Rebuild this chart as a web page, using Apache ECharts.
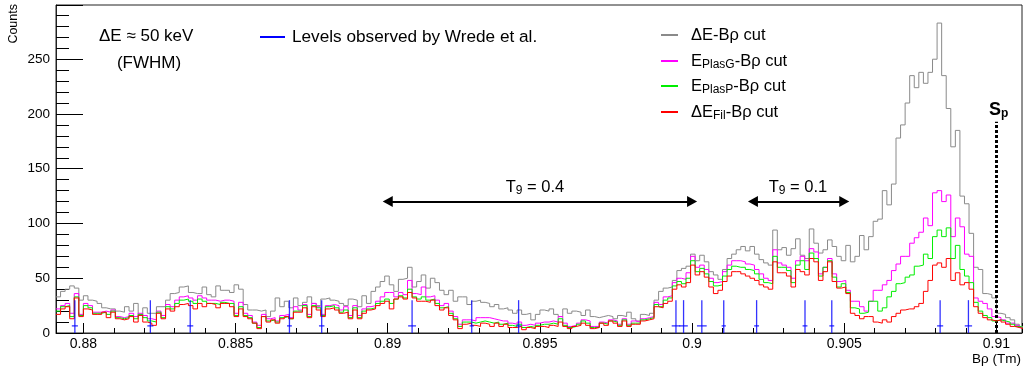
<!DOCTYPE html>
<html><head><meta charset="utf-8">
<script src="https://cdn.jsdelivr.net/npm/echarts@6/dist/echarts.min.js"></script>
<style>html,body{margin:0;padding:0;background:#fff}#c{width:1028px;height:369px}</style>
</head><body><div id="c"></div><script>
// ---- data ----
const binStart = 0.8791;
const binWidth = 0.00015;
const cutDeltaE = [
33,38,40,43,41,30,34,30,29,27, 23,22,22,20,19,24,20,27,17,23, 18,18,24,24,30,36,37,42,43,37,
36,36,42,35,33,43,39,39,37,44, 40,26,21,21,20,21,15,20,32,24, 29,23,32,25,28,33,27,25,31,32,
30,29,27,25,31,30,24,34,27,38, 42,47,52,44,38,49,50,60,42,47, 53,41,50,46,39,35,39,29,33,33,
26,29,30,28,27,24,26,22,23,21, 18,21,17,18,12,17,21,20,22,17, 15,22,18,20,19,16,21,15,14,15,
16,15,13,16,15,19,13,11,17,16, 18,30,38,41,42,48,57,59,61,72, 66,71,65,56,53,49,58,68,72,76,
79,75,79,72,67,64,62,94,76,78, 71,77,86,71,68,95,82,73,76,85, 79,70,66,80,65,70,89,76,88,102,
104,130,117,136,178,190,210,235,224,238, 228,238,250,283,235,205,170,185,125,118, 91,60,58,36,35,32,18,17,14,12,
8,6];
const cutPlasG = [
22,25,27,18,36,17,27,25,19,19, 20,19,21,15,14,15,18,15,18,16, 13,12,20,16,26,24,30,33,34,32,
30,34,32,30,30,29,30,30,29,18, 28,18,16,10,7,17,13,14,11,16, 17,14,24,21,26,17,27,24,17,25,
26,25,21,24,16,25,16,22,24,25, 29,33,37,37,33,37,35,48,36,35, 42,33,34,30,25,27,20,15,8,12,
12,11,14,14,14,13,12,11,11,9, 8,10,7,8,7,9,10,10,11,10, 15,9,6,7,9,12,11,6,6,10,
9,12,11,8,13,8,11,10,13,14, 15,28,26,33,34,46,50,49,55,70, 60,62,58,50,46,47,56,62,66,66,
65,63,62,58,54,50,48,76,64,62, 60,50,66,70,66,77,74,54,60,68, 54,47,48,39,29,29,24,20,29,39,
39,44,48,57,63,70,70,82,87,92, 105,98,128,130,120,126,88,105,97,72, 70,32,29,27,22,15,14,12,9,9,
7,5];
const cutPlasP = [
20,24,25,15,33,16,25,23,18,18, 19,17,20,14,13,14,16,13,17,14, 11,10,19,14,24,22,27,30,31,29,
27,31,29,27,27,26,28,27,27,16, 24,16,14,9,5,15,11,12,10,14, 15,13,20,20,25,15,25,23,16,24,
25,23,19,21,14,23,14,20,22,23, 27,29,31,27,31,34,32,40,33,31, 33,30,31,27,23,24,18,13,6,10,
10,9,10,11,10,9,10,8,9,7, 6,8,5,6,5,7,8,8,9,8, 13,7,5,6,8,11,9,5,5,9,
8,11,10,7,12,7,9,9,12,13, 14,26,24,30,32,43,47,45,50,66, 56,59,54,47,43,44,52,58,61,60,
60,58,57,54,49,46,45,70,60,60, 57,46,62,66,58,73,68,52,60,66, 51,42,45,37,23,22,18,19,29,29,
20,23,33,38,45,46,51,53,61,62, 72,68,88,94,88,96,68,80,58,52, 46,28,20,16,14,11,12,11,10,8,
6,5];
const cutFil = [
17,22,24,13,32,15,22,21,17,17, 19,14,19,13,12,13,15,10,16,10, 9,7,18,13,22,20,24,26,27,25,
22,27,24,27,26,23,27,27,24,15, 22,15,13,9,4,15,10,12,9,13, 15,13,19,19,23,14,24,21,15,22,
23,21,18,19,13,21,13,18,21,22, 25,27,29,22,31,33,31,37,32,29, 29,28,30,25,21,23,16,12,4,8,
9,7,6,9,8,6,9,6,8,5, 5,6,3,5,4,6,6,5,7,6, 10,6,4,6,7,9,7,4,5,9,
7,11,9,6,11,6,8,8,11,12, 13,24,23,27,29,40,44,42,46,62, 53,56,51,42,36,39,47,52,56,56,
54,52,50,48,44,42,40,65,55,55, 52,42,58,56,53,68,65,48,56,65, 47,41,42,36,18,16,13,15,15,10,
9,12,10,15,18,21,22,22,24,27, 38,48,62,64,60,68,48,55,44,46, 40,24,18,14,12,11,12,10,8,6,
5,4];
const levelPos = [0.87972,0.88220,0.88351,0.88677,0.88783,0.89080,0.89276,0.89430,0.89947,0.89972,
                  0.90032,0.90104,0.90212,0.90371,0.90459,0.90815,0.90908];
const levelErr = [0.0001,0.0001,0.0001,0.00008,0.00009,0.00013,0.00007,0.00008,0.00014,0.00014,
                  0.00016,0.00007,0.00008,0.00008,0.00008,0.0001,0.00012];
const levelTop = 30;
const levelMark = 6.5;
const t9Arrows = [[0.89, 0.90, '0.4'], [0.902, 0.905, '0.1']];
const t9Level = 120;
const spValue = 0.91;
const spTop = 193;
const seriesNames = ['ΔE-Bρ cut', 'E_PlasG-Bρ cut', 'E_PlasP-Bρ cut', 'ΔE_Fil-Bρ cut'];
const seriesColors = ['#8a8a8a', '#ff00ff', '#00ee00', '#ff0000'];

// ---- chart ----
const FONT = '"Liberation Sans", Arial, Helvetica, sans-serif';
function histData(vals) {
  const d = vals.map((v, i) => [binStart + i * binWidth, v]);
  d.push([binStart + vals.length * binWidth, vals[vals.length - 1]]);
  return d;
}
const allHists = [cutDeltaE, cutPlasG, cutPlasP, cutFil];
const series = allHists.map((vals, k) => ({
  type: 'line', name: seriesNames[k], step: 'end', data: histData(vals),
  showSymbol: false, symbol: 'none', animation: false, silent: true,
  lineStyle: { color: seriesColors[k], width: 1 }, z: 3 + k
}));
series.push({
  type: 'line', data: [], animation: false, silent: true, z: 10,
  markLine: {
    silent: true, animation: false, label: { show: false },
    data: [
      ...t9Arrows.map(a => [
        { coord: [a[0], t9Level], symbol: 'triangle', symbolSize: [11, 10], lineStyle: { color: '#000', width: 2, type: 'solid' } },
        { coord: [a[1], t9Level], symbol: 'triangle', symbolSize: [11, 10] }
      ]),
      [
        { coord: [spValue, 0], symbol: 'none', lineStyle: { color: '#000', width: 3, type: [3, 2] } },
        { coord: [spValue, spTop], symbol: 'none' }
      ]
    ]
  }
});
series.push({
  type: 'custom', animation: false, silent: true, z: 9,
  data: levelPos.map((p, i) => [p, levelErr[i]]),
  renderItem: function (params, api) {
    const x = api.value(0), dx = api.value(1);
    const top = api.coord([x, levelTop]);
    const bot = api.coord([x, 0]);
    const l = api.coord([x - dx, levelMark]);
    const r = api.coord([x + dx, levelMark]);
    const st = { stroke: 'rgba(0,0,255,0.8)', lineWidth: 1.3 };
    return { type: 'group', children: [
      { type: 'line', shape: { x1: top[0], y1: top[1], x2: bot[0], y2: bot[1] }, style: st },
      { type: 'line', shape: { x1: l[0], y1: l[1], x2: r[0], y2: r[1] }, style: st }
    ]};
  }
});

function mkRich(size) {
  return {
    a: { fontSize: size, lineHeight: 20, fontFamily: FONT, fill: '#000' },
    s: { fontSize: 12, lineHeight: 8, verticalAlign: 'bottom', fontFamily: FONT, fill: '#000' }
  };
}
function rtext(x, y, text, align, size) {
  return { type: 'text', x: x, y: y, z: 100, silent: true,
    style: { text: text, rich: mkRich(size || 16.5), align: align || 'left', verticalAlign: 'middle',
      textAlign: align || 'left', textVerticalAlign: 'middle', font: (size || 16.5) + 'px ' + FONT, fill: '#000' } };
}
const legendY = [35, 61, 86, 112];
const legendTexts = ['{a|ΔE-Bρ cut}', '{a|E}{s|PlasG}{a|-Bρ cut}', '{a|E}{s|PlasP}{a|-Bρ cut}', '{a|ΔE}{s|Fil}{a|-Bρ cut}'];
const graphics = [];
legendY.forEach((y, k) => {
  graphics.push({ type: 'line', z: 100, silent: true, shape: { x1: 661, y1: y, x2: 678, y2: y }, style: { stroke: seriesColors[k], lineWidth: 2 } });
  graphics.push(rtext(691, y, legendTexts[k]));
});
graphics.push({ type: 'line', z: 100, silent: true, shape: { x1: 260, y1: 37, x2: 285, y2: 37 }, style: { stroke: '#0000ff', lineWidth: 2 } });
graphics.push(rtext(292, 37, '{a|Levels observed by Wrede et al.}', 'left', 17.2));
graphics.push(rtext(99, 36, '{a|ΔE ≈ 50 keV}', 'left', 17));
graphics.push(rtext(149, 63, '{a|(FWHM)}', 'center', 17));
graphics.push(rtext(535, 187, '{a|T}{s|9}{a| = 0.4}', 'center'));
graphics.push(rtext(798, 187, '{a|T}{s|9}{a| = 0.1}', 'center'));
graphics.push({ type: 'text', x: 989, y: 110, z: 100, silent: true,
  style: { text: '{a|S}{s|p}', rich: {
    a: { fontSize: 18, fontWeight: 'bold', lineHeight: 20, fontFamily: FONT, fill: '#000' },
    s: { fontSize: 12, fontWeight: 'bold', lineHeight: 6, verticalAlign: 'bottom', fontFamily: FONT, fill: '#000' } },
    align: 'left', verticalAlign: 'middle', textAlign: 'left', textVerticalAlign: 'middle' } });
graphics.push({ type: 'text', x: 14, y: 4, rotation: Math.PI / 2, z: 100, silent: true,
  style: { text: 'Counts', font: '12.5px ' + FONT, fill: '#000', align: 'right', verticalAlign: 'middle', textAlign: 'right', textVerticalAlign: 'middle' } });
graphics.push({ type: 'text', x: 1021, y: 359, z: 100, silent: true,
  style: { text: 'Bρ (Tm)', font: '13.5px ' + FONT, fill: '#000', align: 'right', verticalAlign: 'middle', textAlign: 'right', textVerticalAlign: 'middle' } });

const chart = echarts.init(document.getElementById('c'), null, { renderer: 'canvas' });
chart.setOption({
  animation: false,
  backgroundColor: '#fff',
  grid: { left: 56, right: 6, top: 5, bottom: 36, show: true, borderColor: '#222', borderWidth: 1, containLabel: false },
  xAxis: {
    type: 'value', min: 0.8791, max: 0.91084, splitNumber: 5, scale: true,
    axisLine: { show: true, onZero: false, lineStyle: { color: '#222', width: 1 } },
    axisTick: { show: true, inside: true, length: 10, lineStyle: { color: '#000' } },
    minorTick: { show: true, splitNumber: 5, length: 5, lineStyle: { color: '#000' } },
    splitLine: { show: false },
    axisLabel: { show: true, showMinLabel: false, showMaxLabel: false, margin: 4, color: '#000', fontSize: 14, fontFamily: FONT }
  },
  yAxis: {
    type: 'value', min: 0, max: 299.5, splitNumber: 6,
    axisLine: { show: true, lineStyle: { color: '#222', width: 1 } },
    axisTick: { show: true, inside: true, length: 27, lineStyle: { color: '#000' } },
    minorTick: { show: true, splitNumber: 5, length: 13, lineStyle: { color: '#000' } },
    splitLine: { show: false },
    axisLabel: { show: true, showMaxLabel: false, margin: 6, color: '#000', fontSize: 13.5, fontFamily: FONT,
      formatter: v => (v % 50 === 0 ? String(v) : '') }
  },
  series: series,
  graphic: graphics
});
</script></body></html>
